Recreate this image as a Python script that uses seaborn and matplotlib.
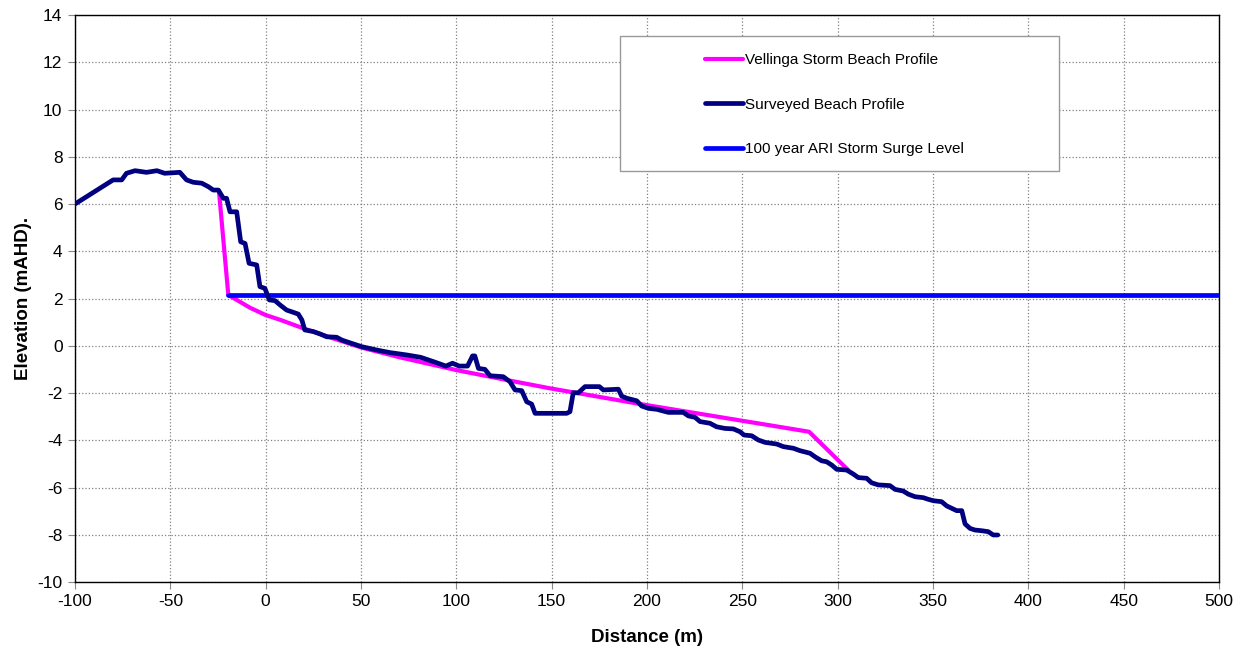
import matplotlib
matplotlib.use("Agg")
import matplotlib.pyplot as plt
from matplotlib.patches import Rectangle
import seaborn as sns
import pandas as pd

# Surveyed beach profile (distance m, elevation mAHD)
survey_x = [-100, -80, -75.5, -73, -68.5, -62.5, -57, -53, -45, -41.5, -38, -33.5, -30,
            -27.5, -24.8, -22.2, -20.5, -18.7, -15.2, -13.1, -10.8, -8.7, -4.7, -3.0, -0.4,
            1.9, 4.9, 7.5, 11.0, 13.6, 17.1, 19.0, 20.5, 25, 28.5, 32, 37.2, 40, 42.5, 50.4,
            58.2, 65.2, 74, 81.3, 88.3, 94.5, 98, 101.5, 105.9, 108.5, 109.7, 111.6, 115,
            117.7, 124.6, 128.1, 130.8, 134.3, 136.9, 139.5, 141.3, 149, 157.9, 159.6, 161.3,
            164, 167.5, 175, 177.1, 185, 186.7, 189.3, 194.6, 197.2, 200.7, 205.1, 211.2, 219,
            221.7, 225.2, 227.8, 233, 236.5, 240.9, 245.3, 248.8, 250.9, 254.9, 258.4, 261.9,
            268, 271.5, 276.8, 280.2, 285.5, 288.1, 291.6, 294.2, 296.9, 299.5, 304.7, 308.2,
            310.8, 315.2, 317.8, 321.3, 327.4, 330.1, 334.4, 337, 340.6, 344.9, 347.5, 350.2,
            354.5, 357.2, 359.8, 362.4, 365.1, 366.8, 369.4, 372, 375.6, 379, 381.6, 384]
survey_y = [6.0, 7.02, 7.02, 7.3, 7.41, 7.34, 7.41, 7.3, 7.34, 7.02, 6.92, 6.88, 6.73,
            6.59, 6.59, 6.24, 6.24, 5.67, 5.67, 4.4, 4.33, 3.49, 3.42, 2.5, 2.43,
            1.94, 1.91, 1.73, 1.51, 1.44, 1.34, 1.09, 0.67, 0.6, 0.5, 0.38, 0.36, 0.24, 0.17, -0.04,
            -0.18, -0.29, -0.39, -0.49, -0.68, -0.86, -0.74, -0.86, -0.86, -0.43, -0.43, -0.96, -1.0,
            -1.27, -1.31, -1.52, -1.87, -1.9, -2.37, -2.47, -2.86, -2.86, -2.86, -2.79, -1.99,
            -1.99, -1.73, -1.73, -1.87, -1.84, -2.13, -2.22, -2.33, -2.55, -2.65, -2.69, -2.82, -2.82,
            -2.97, -3.03, -3.21, -3.28, -3.43, -3.5, -3.52, -3.64, -3.78, -3.81, -3.99, -4.09,
            -4.16, -4.27, -4.34, -4.44, -4.55, -4.7, -4.87, -4.91, -5.05, -5.23, -5.26, -5.43,
            -5.58, -5.61, -5.8, -5.89, -5.92, -6.08, -6.15, -6.28, -6.39, -6.43, -6.5, -6.56,
            -6.6, -6.78, -6.88, -6.98, -6.98, -7.54, -7.73, -7.8, -7.83, -7.87, -8.01, -8.01]

# Vellinga storm erosion profile
vellinga_x = [-24.5, -19.6, -8, 0, 7.5, 19.7, 35.5, 50.4, 70.4, 100, 126.4, 149, 196, 242, 285, 305.5]
vellinga_y = [6.55, 2.15, 1.6, 1.3, 1.1, 0.74, 0.31, -0.08, -0.49, -1.03, -1.45, -1.8, -2.46, -3.07, -3.64, -5.26]

# 100 year ARI storm surge level
surge_x = [-19.8, 500]
surge_y = [2.15, 2.15]

labels = ["Vellinga Storm Beach Profile", "Surveyed Beach Profile", "100 year ARI Storm Surge Level"]
colors = ["#FF00FF", "#000080", "#0000FF"]

x_ticks = list(range(-100, 501, 50))
y_ticks = list(range(-10, 15, 2))

sns.set_theme(style="ticks")
plt.rcParams["font.family"] = ["Liberation Sans", "DejaVu Sans"]
plt.rcParams["axes.unicode_minus"] = False
plt.rcParams["text.color"] = "black"
plt.rcParams["axes.labelcolor"] = "black"
plt.rcParams["xtick.labelcolor"] = "black"
plt.rcParams["ytick.labelcolor"] = "black"

fig = plt.figure(figsize=(12.45, 6.6), dpi=100)
ax = fig.add_axes([75 / 1245, 1 - 582 / 660, 1144 / 1245, 567 / 660])

df_v = pd.DataFrame({"x": vellinga_x, "y": vellinga_y})
df_s = pd.DataFrame({"x": survey_x, "y": survey_y})
df_w = pd.DataFrame({"x": surge_x, "y": surge_y})

sns.lineplot(data=df_v, x="x", y="y", sort=False, estimator=None, ax=ax,
             color=colors[0], linewidth=3.0, label=labels[0], zorder=3)
sns.lineplot(data=df_w, x="x", y="y", sort=False, estimator=None, ax=ax,
             color=colors[2], linewidth=3.4, label=labels[2], zorder=4)
sns.lineplot(data=df_s, x="x", y="y", sort=False, estimator=None, ax=ax,
             color=colors[1], linewidth=3.4, label=labels[1], zorder=5)

ax.set_xlim(-100, 500)
ax.set_ylim(-10, 14)
ax.set_xticks(x_ticks)
ax.set_yticks(y_ticks)
ax.tick_params(axis="both", direction="out", length=5, width=0.8, labelsize=12.5,
               color="#888888", labelcolor="black", pad=4)
ax.grid(True, color="#808080", linestyle=":", linewidth=0.9)
ax.set_axisbelow(True)
for sp in ax.spines.values():
    sp.set_color("black")
    sp.set_linewidth(1.0)

ax.set_xlabel("Distance (m)", fontsize=13.5, fontweight="bold", labelpad=14, color="black")
ax.set_ylabel("Elevation (mAHD).", fontsize=13.5, fontweight="bold", labelpad=4, color="black")

# Legend box
ax.add_patch(Rectangle((0.4764, 0.725), 0.860 - 0.4764, 0.963 - 0.725,
                       transform=ax.transAxes, facecolor="white", edgecolor="#999999",
                       linewidth=1.0, zorder=6))
handles, labs = ax.get_legend_handles_labels()
order = [labs.index(l) for l in labels]
leg = ax.legend([handles[i] for i in order], [labs[i] for i in order],
                loc="upper left", bbox_to_anchor=(0.5507, 0.933), frameon=False,
                fontsize=11, handlelength=2.5, handletextpad=0.1, labelspacing=2.0,
                borderpad=0, borderaxespad=0)
leg.set_zorder(7)
for t in leg.get_texts():
    t.set_color("black")

fig.savefig("out.png", dpi=100)
